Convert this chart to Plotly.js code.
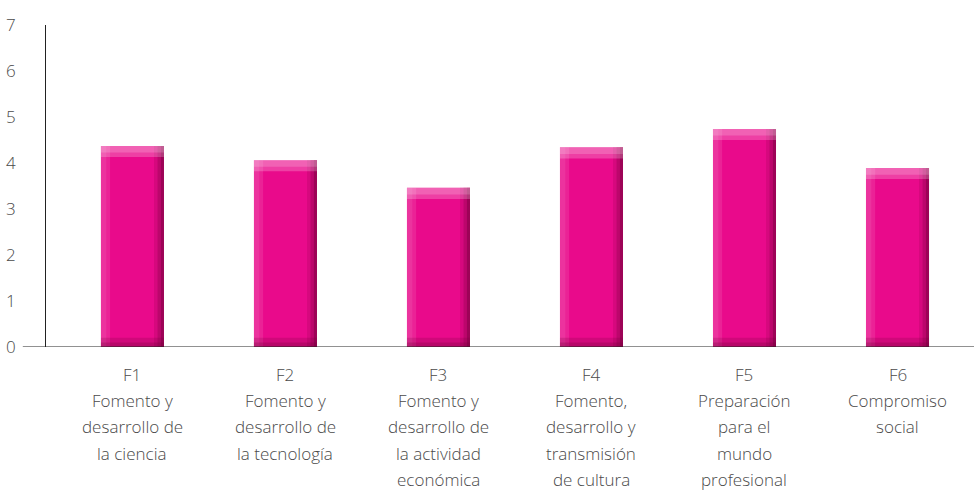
<!DOCTYPE html>
<html>
<head>
<meta charset="utf-8">
<script src="https://cdn.plot.ly/plotly-3.0.1.min.js"></script>
<style>html,body{margin:0;padding:0;background:#fff;}#chart{width:974px;height:491px;}</style>
</head>
<body>
<div id="chart"></div>
<script>
var codes = ['F1', 'F2', 'F3', 'F4', 'F5', 'F6'];
var descriptions = [
  ['Fomento y', 'desarrollo de', 'la ciencia'],
  ['Fomento y', 'desarrollo de', 'la tecnología'],
  ['Fomento y', 'desarrollo de', 'la actividad', 'económica'],
  ['Fomento,', 'desarrollo y', 'transmisión', 'de cultura'],
  ['Preparación', 'para el', 'mundo', 'profesional'],
  ['Compromiso', 'social']
];
var values = [4.37, 4.06, 3.46, 4.34, 4.74, 3.89];
var yTicks = [0, 1, 2, 3, 4, 5, 6, 7];

var xs = codes.map(function (c, i) { return i; });
var W = 0.412;
var half = W / 2;
var textFont = {family: '"Open Sans", "Noto Sans", sans-serif', size: 17, color: '#4a4a4a', weight: 300};

function strip(offset, width, ys, bases, color) {
  return {
    type: 'bar', x: xs, y: ys, base: bases, offset: offset, width: width,
    marker: {color: color, line: {width: 0}}, hoverinfo: 'skip', showlegend: false
  };
}

var traces = [];
// main body
traces.push(strip(-half, W, values, values.map(function () { return 0; }), '#E90A8B'));
// left lighter edge
traces.push(strip(-half, 0.06, values, null, 'rgba(255,255,255,0.1)'));
traces.push(strip(-half, 0.035, values, null, 'rgba(255,255,255,0.08)'));
// right darker edge (gradient by overlapping)
traces.push(strip(half - 0.065, 0.065, values, null, 'rgba(110,0,55,0.15)'));
traces.push(strip(half - 0.042, 0.042, values, null, 'rgba(110,0,55,0.25)'));
traces.push(strip(half - 0.02, 0.02, values, null, 'rgba(100,0,50,0.35)'));
// bottom darker band
var bottomH = 0.2;
traces.push(strip(-half, W, values.map(function () { return bottomH; }), values.map(function () { return 0; }), 'rgba(110,0,55,0.2)'));
traces.push(strip(-half, W, values.map(function () { return bottomH / 2; }), values.map(function () { return 0; }), 'rgba(110,0,55,0.25)'));
// top lighter band
var topH = 0.24;
traces.push(strip(-half, W, values.map(function () { return topH; }), values.map(function (v) { return v - topH; }), 'rgba(255,255,255,0.22)'));
traces.push(strip(-half, W, values.map(function () { return topH * 0.6; }), values.map(function (v) { return v - topH * 0.6; }), 'rgba(255,255,255,0.18)'));

var annotations = [];
codes.forEach(function (code, i) {
  var lines = [code].concat(descriptions[i]);
  lines.forEach(function (txt, k) {
    annotations.push({
      x: i, xref: 'x', y: 0, yref: 'paper', text: txt, showarrow: false,
      xanchor: 'center', yanchor: 'middle', yshift: -27.5 - 26.2 * k,
      font: textFont, borderpad: 0
    });
  });
});

var layout = {
  width: 974, height: 491,
  margin: {l: 46, r: 0, t: 25, b: 144},
  paper_bgcolor: '#ffffff', plot_bgcolor: '#ffffff',
  barmode: 'overlay',
  showlegend: false,
  xaxis: {
    range: [-0.565, 5.5], showgrid: false, zeroline: false, showline: false,
    showticklabels: false, ticks: '', fixedrange: true
  },
  yaxis: {
    range: [0, 7], tickvals: yTicks, ticktext: yTicks.map(String),
    showgrid: false, zeroline: false, showline: true, linecolor: '#222', linewidth: 1,
    ticks: '', ticklabelstandoff: 26, tickfont: textFont, fixedrange: true
  },
  shapes: [{
    type: 'line', xref: 'paper', yref: 'y', x0: -0.025, x1: 1, y0: 0, y1: 0,
    line: {color: '#222', width: 1}
  }],
  annotations: annotations
};

Plotly.newPlot('chart', traces, layout, {displayModeBar: false, staticPlot: true});
</script>
</body>
</html>
